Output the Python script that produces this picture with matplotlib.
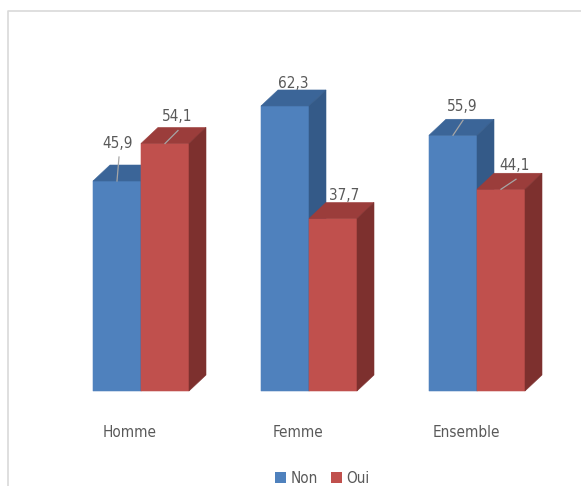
import matplotlib
matplotlib.use("Agg")
import matplotlib.pyplot as plt
from matplotlib.patches import Polygon, Rectangle, Patch

plt.rcParams["font.family"] = ["DejaVu Sans"]
plt.rcParams["font.stretch"] = "condensed"

categories = ["Homme", "Femme", "Ensemble"]
series = ["Non", "Oui"]
non = [45.9, 62.3, 55.9]
oui = [54.1, 37.7, 44.1]
leader = [[True, True], [False, False], [True, True]]

# label placement (pixels right of bar centre, pixels above front top)
label_off = [[(1, 38), (12, 27)], [(8, 22), (11, 23)], [(9, 29), (14, 24)]]

# face colours: front, top, side
FACES = {
    "Non": ("#4f81bd", "#3b6598", "#345a88"),
    "Oui": ("#c0504d", "#9b3d3b", "#7d302e"),
}
TXT = "#595959"

PX_X, PX_Y = 168.0, 4.575  # pixels per category unit / per value unit
W = 48 / PX_X              # bar width
DX, DY = 17 / PX_X, 16 / PX_Y  # depth offset

fig = plt.figure(figsize=(5.81, 4.86), dpi=100)
ax = fig.add_axes([0, 0, 1, 1])
ax.set_xlim(-141 / PX_X, 440 / PX_X)
ax.set_ylim(-95 / PX_Y, 391 / PX_Y)
ax.axis("off")

# chart area border
ax.plot([-133 / PX_X, -133 / PX_X, 2.62], [-25, 380 / PX_Y, 380 / PX_Y],
        color="#d9d9d9", lw=1.2, clip_on=False)


def bar3d(x0, v, front, top, side):
    # no pixel snapping, so the faces meet without a white seam
    kw = dict(lw=0.4, joinstyle="miter", snap=False)
    ax.add_patch(Rectangle((x0, 0), W, v, fc=front, ec=front, **kw))
    ax.add_patch(Polygon([(x0, v), (x0 + DX, v + DY), (x0 + W + DX, v + DY), (x0 + W, v)],
                         fc=top, ec=top, **kw))
    ax.add_patch(Polygon([(x0 + W, 0), (x0 + W + DX, DY), (x0 + W + DX, v + DY), (x0 + W, v)],
                         fc=side, ec=side, **kw))


for i, cat in enumerate(categories):
    for j, (name, vals) in enumerate(zip(series, [non, oui])):
        v = vals[i]
        x0 = i - W + j * W
        bar3d(x0, v, *FACES[name])
        cx = x0 + W / 2
        ox, oy = label_off[i][j]
        lx, ly = cx + ox / PX_X, v + oy / PX_Y
        ax.text(lx, ly, f"{v:.1f}".replace(".", ","), ha="center", va="center",
                fontsize=11, color=TXT, zorder=10)
        if leader[i][j]:
            ax.plot([cx, lx + 1 / PX_X], [v, ly - 14 / PX_Y], color="#a6a6a6", lw=0.9, zorder=9)
    ax.text(i - 11 / PX_X, -41 / PX_Y, cat, ha="center", va="center", fontsize=11,
            color=TXT, zorder=10)

handles = [Patch(fc=FACES[s][0], ec="none") for s in series]
fig.legend(handles, series, loc="center", bbox_to_anchor=(0.555, 8 / 486), ncol=2,
           frameon=False, fontsize=11, labelcolor=TXT, handlelength=0.7, handleheight=0.7,
           handletextpad=0.3, columnspacing=0.9)

fig.savefig("out.png", dpi=100)
